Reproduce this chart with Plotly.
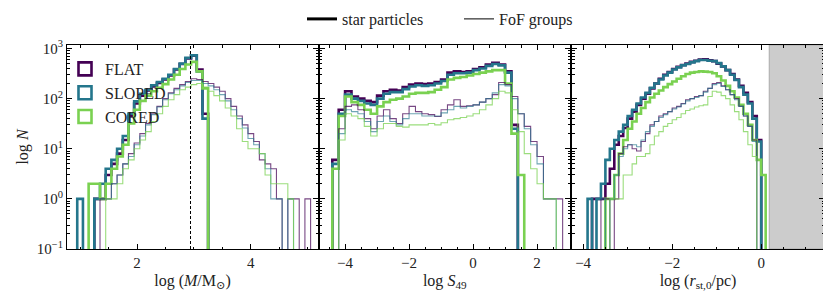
import numpy as np
import plotly.graph_objects as go

# ---------------- data ----------------
models = ["FLAT", "SLOPED", "CORED"]
colors_thick = {"FLAT": "#440154", "SLOPED": "#24768c", "CORED": "#7ad151"}
colors_thin = {"FLAT": "rgba(68,1,84,0.72)", "SLOPED": "rgba(36,118,140,0.65)", "CORED": "rgba(122,209,81,0.75)"}

# Panel 1: log(M/Msun)
mass_star_edges = np.round(np.arange(0.95, 3.251, 0.1), 3)
mass_star = {
    "FLAT":   [0, 0, 0, 1, 1, 3, 5, 8, 15, 45, 80, 115, 145, 175, 205, 240, 290, 380, 490, 630, 720, 380, 50],
    "SLOPED": [1, 0, 0, 1, 2, 4, 6, 10, 18, 50, 88, 125, 150, 185, 215, 250, 300, 390, 500, 650, 730, 350, 40],
    "CORED":  [0, 0, 2, 2, 1, 2, 4, 7, 12, 32, 60, 90, 115, 140, 165, 195, 240, 300, 390, 480, 540, 350, 160],
}
mass_fof_edges = np.round(np.arange(1.25, 5.051, 0.1), 3)
mass_fof = {
    "FLAT":   [0, 1, 1, 2, 3, 5, 8, 13, 20, 32, 50, 70, 100, 130, 160, 190, 220, 250, 240, 220, 200, 170, 140, 100, 70, 45, 30, 20, 14, 6, 5, 4, 1, 0, 1, 1, 0, 1],
    "SLOPED": [1, 1, 1, 2, 3, 5, 7, 12, 18, 30, 48, 68, 95, 125, 150, 180, 210, 230, 230, 200, 180, 150, 120, 90, 60, 40, 26, 16, 12, 8, 4, 1, 1, 0, 1, 0, 0, 0],
    "CORED":  [0, 0, 1, 1, 2, 4, 6, 10, 15, 22, 35, 50, 70, 95, 120, 150, 170, 190, 200, 170, 140, 115, 90, 65, 45, 25, 14, 10, 10, 8, 3, 2, 2, 2, 1, 0, 0, 0],
}
mass_cut = 2.94

# Panel 2: log S49
s49_edges = np.round(np.arange(-4.4, 2.801, 0.2), 3)
s49_star = {
    "FLAT":   [6, 60, 140, 110, 100, 90, 85, 115, 140, 150, 145, 170, 190, 200, 195, 200, 215, 240, 330, 350, 340, 350, 390, 420, 480, 520, 480, 350, 30, 0, 0, 0, 0, 0, 0, 0],
    "SLOPED": [5, 50, 120, 100, 90, 80, 75, 100, 125, 135, 135, 155, 175, 185, 180, 185, 200, 225, 300, 320, 320, 330, 370, 400, 450, 490, 460, 330, 25, 0, 0, 0, 0, 0, 0, 0],
    "CORED":  [4, 45, 110, 85, 75, 60, 50, 70, 85, 95, 100, 110, 125, 130, 130, 135, 150, 170, 240, 260, 270, 290, 310, 330, 350, 370, 370, 200, 20, 3, 0, 0, 0, 0, 0, 0],
}
s49_fof = {
    "FLAT":   [0, 25, 70, 75, 60, 40, 25, 45, 60, 40, 32, 50, 70, 55, 50, 48, 44, 60, 75, 95, 70, 72, 75, 85, 100, 120, 210, 190, 110, 50, 28, 14, 7, 1, 1, 1],
    "SLOPED": [0, 20, 60, 55, 50, 35, 22, 35, 45, 35, 30, 40, 50, 50, 45, 45, 45, 52, 60, 70, 65, 70, 75, 85, 100, 130, 190, 180, 100, 50, 25, 12, 5, 1, 1, 0],
    "CORED":  [0, 15, 50, 45, 40, 28, 18, 25, 32, 32, 28, 27, 30, 30, 30, 32, 30, 33, 38, 40, 42, 45, 50, 60, 75, 100, 140, 130, 60, 22, 8, 4, 2, 1, 1, 0],
}

# Panel 3: log(r_st,0/pc)
r_edges = np.round(np.arange(-3.9, 0.101, 0.1), 3)
r_star = {
    "FLAT":   [0, 1, 1, 1, 2, 4, 12, 18, 26, 40, 55, 75, 100, 125, 160, 200, 250, 300, 340, 390, 430, 470, 500, 540, 570, 600, 610, 580, 560, 500, 440, 370, 310, 240, 180, 130, 85, 45, 15, 0],
    "SLOPED": [1, 0, 1, 2, 6, 10, 15, 22, 30, 45, 60, 80, 105, 130, 165, 200, 240, 290, 330, 380, 420, 460, 490, 530, 560, 590, 590, 570, 560, 510, 440, 370, 300, 235, 170, 120, 80, 40, 14, 0],
    "CORED":  [0, 0, 0, 0, 1, 1, 3, 8, 15, 25, 35, 50, 65, 85, 105, 125, 145, 170, 195, 220, 250, 280, 310, 330, 340, 350, 345, 340, 320, 280, 230, 180, 140, 105, 75, 50, 30, 15, 6, 3],
}
r_fof = {
    "FLAT":   [0, 0, 0, 1, 1, 0, 1, 8, 11, 12, 10, 9, 14, 20, 30, 35, 45, 50, 55, 65, 70, 80, 95, 100, 110, 115, 140, 160, 200, 210, 180, 150, 120, 100, 70, 45, 28, 15, 0, 0],
    "SLOPED": [0, 0, 1, 1, 0, 1, 3, 7, 10, 12, 12, 11, 15, 22, 28, 35, 42, 48, 55, 62, 68, 78, 90, 100, 105, 115, 135, 160, 190, 200, 175, 150, 120, 95, 70, 45, 28, 14, 0, 0],
    "CORED":  [0, 0, 0, 0, 0, 1, 1, 1, 3, 3, 5, 7, 7, 8, 12, 18, 22, 28, 32, 38, 42, 50, 58, 62, 68, 72, 75, 110, 140, 135, 115, 100, 75, 55, 38, 22, 12, 7, 0, 0],
}
r_excluded_start = 0.18

FONT = "Times New Roman, Tinos, Liberation Serif, DejaVu Serif, serif"
TXT = "#222222"

# the page adds an 8 px body margin; size the figure to the remaining area
OFF = 8
W, H = 831 - OFF, 303 - OFF


def px_x(p):
    return (p - OFF) / W


def px_y(p):
    return 1 - (p - OFF) / H


def step_xy(edges, counts, floor=1e-3):
    xs = [float(edges[0])] + [float(e) for e in edges]
    ys = [floor] + [c if c > 0 else floor for c in counts] + [floor]
    return xs, ys


fig = go.Figure()

panels = [
    ("x", "y", mass_star_edges, mass_star, mass_fof_edges, mass_fof),
    ("x2", "y2", s49_edges, s49_star, s49_edges, s49_fof),
    ("x3", "y3", r_edges, r_star, r_edges, r_fof),
]

for xa, ya, se, sdat, fe, fdat in panels:
    for m in models:
        xs, ys = step_xy(se, sdat[m])
        fig.add_trace(go.Scatter(x=xs, y=ys, mode="lines", line_shape="hv",
                                 line=dict(color=colors_thick[m], width=2.6),
                                 xaxis=xa, yaxis=ya, showlegend=False, hoverinfo="skip"))
    for m in models:
        xs, ys = step_xy(fe, fdat[m])
        fig.add_trace(go.Scatter(x=xs, y=ys, mode="lines", line_shape="hv",
                                 line=dict(color=colors_thin[m], width=1.1),
                                 xaxis=xa, yaxis=ya, showlegend=False, hoverinfo="skip"))

# legends
fig.add_trace(go.Scatter(x=[None], y=[None], mode="lines", name="star particles",
                         line=dict(color="black", width=3), legend="legend"))
fig.add_trace(go.Scatter(x=[None], y=[None], mode="lines", name="FoF groups",
                         line=dict(color="black", width=1), legend="legend"))
for m in models:
    fig.add_trace(go.Scatter(x=[None], y=[None], mode="markers", name=m,
                             marker=dict(symbol="square-open", size=13,
                                         line=dict(color=colors_thick[m], width=2.6),
                                         color=colors_thick[m]),
                             legend="legend2"))

# shapes
fig.add_shape(type="line", xref="x", yref="y domain", x0=mass_cut, x1=mass_cut, y0=0, y1=1,
              line=dict(color="black", width=1, dash="3px,2px"))
fig.add_shape(type="rect", xref="x3", yref="y3 domain", x0=r_excluded_start, x1=1.41, y0=0, y1=1,
              fillcolor="#cccccc", line=dict(color="#aaaaaa", width=1), layer="below")

ytickvals = [0.1, 1, 10, 100, 1000]
yticktext = ["10<sup>−1</sup>", "10<sup>0</sup>", "10<sup>1</sup>", "10<sup>2</sup>", "10<sup>3</sup>"]
yminor = [k * 10.0 ** p for p in range(-1, 4) for k in range(2, 10)]

common_x = dict(showline=True, linecolor="black", linewidth=1, mirror="allticks",
                ticks="inside", ticklen=5, tickcolor="black", showgrid=False, zeroline=False,
                dtick=2, tick0=0, tickfont=dict(family=FONT, size=15, color=TXT),
                minor=dict(ticks="inside", ticklen=2.5, dtick=0.5, tick0=0, tickcolor="black", showgrid=False),
                title_font=dict(family=FONT, size=16, color=TXT), title_standoff=4,
                automargin=False)
common_y = dict(type="log", range=[-1, 3.07], showline=True, linecolor="black", linewidth=1,
                mirror="allticks", ticks="inside", ticklen=5, tickcolor="black", showgrid=False,
                zeroline=False, tickmode="array", tickvals=ytickvals, ticktext=yticktext,
                tickfont=dict(family=FONT, size=15, color=TXT), automargin=False,
                minor=dict(ticks="inside", ticklen=2.5, tickmode="array", tickvals=yminor,
                           tickcolor="black", showgrid=False))

ydom = [px_y(249), px_y(45)]
fig.update_layout(
    width=W, height=H, margin=dict(l=0, r=0, t=0, b=0, autoexpand=False),
    paper_bgcolor="white", plot_bgcolor="white",
    font=dict(family=FONT, size=15, color=TXT),
    xaxis=dict(common_x, domain=[px_x(67), px_x(318)], range=[0.77, 5.18], anchor="y",
               title_text="log (<i>M</i>/M<sub>⊙</sub>)"),
    xaxis2=dict(common_x, domain=[px_x(319.5), px_x(570)], range=[-4.8, 3.03], anchor="y2",
                title_text="log <i>S</i><sub>49</sub>"),
    xaxis3=dict(common_x, domain=[px_x(572), px_x(824)], range=[-4.25, 1.41], anchor="y3",
                title_text="log (<i>r</i><sub>st,0</sub>/pc)"),
    yaxis=dict(common_y, domain=ydom, anchor="x", title_text="log <i>N</i>",
               title_font=dict(family=FONT, size=16, color=TXT), title_standoff=4),
    yaxis2=dict(common_y, domain=ydom, anchor="x2", showticklabels=False),
    yaxis3=dict(common_y, domain=ydom, anchor="x3", showticklabels=False),
    legend=dict(orientation="h", x=px_x(302), xanchor="left", y=px_y(19), yanchor="middle",
                font=dict(family=FONT, size=16, color=TXT), bgcolor="rgba(0,0,0,0)",
                itemwidth=30, entrywidth=112),
    legend2=dict(x=px_x(65), xanchor="left", y=px_y(52), yanchor="top",
                 font=dict(family=FONT, size=16, color=TXT), bgcolor="rgba(0,0,0,0)",
                 tracegroupgap=0),
)

fig.write_html("out.html")
